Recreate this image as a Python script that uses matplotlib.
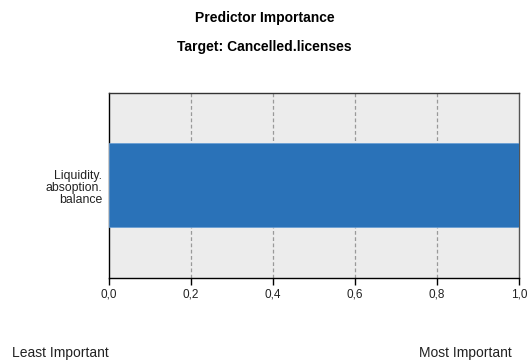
import matplotlib
matplotlib.use("Agg")
import matplotlib.pyplot as plt

plt.rcParams['font.family'] = ['Liberation Sans', 'DejaVu Sans']

categories = ["Liquidity.\nabsoption.\nbalance"]
importance = [1.0]
xticks = [0.0, 0.2, 0.4, 0.6, 0.8, 1.0]
xtick_labels = ["0,0", "0,2", "0,4", "0,6", "0,8", "1,0"]

fig = plt.figure(figsize=(5.29, 3.6), dpi=100)
ax = fig.add_axes([109/529, 1-277.7/360, 410/529, 185/360])
ax.set_facecolor('#ececec')

ypos = list(range(len(categories)))
ax.barh(ypos, importance, height=0.456, color='#2a72b8',
        edgecolor='#6a9fd4', linewidth=0.6, zorder=3)
ax.set_xlim(0, 1.0)
ax.set_ylim(-0.5, 0.5)
ax.set_yticks([])
for i, c in zip(ypos, categories):
    ax.annotate(c, xy=(0, i), xycoords=('axes fraction', 'data'),
                xytext=(-7, -3), textcoords='offset pixels',
                ha='right', va='center', fontsize=8.8, linespacing=1.0,
                color='#222222', multialignment='right')
ax.set_xticks(xticks)
ax.set_xticklabels(xtick_labels, fontsize=8.5, color='#222222')
ax.tick_params(axis='x', direction='out', length=5, width=1, color='black', pad=3)
for x in xticks[1:-1]:
    ax.axvline(x, color='#999999', linestyle=(0, (3, 2)), linewidth=0.9, zorder=1)
for s in ['top', 'left', 'bottom', 'right']:
    ax.spines[s].set_color('black')
    ax.spines[s].set_linewidth(1)
ax.spines['right'].set_color('#555555')
ax.spines['top'].set_color('#333333')

fig.text(0.5, 1-18/360, "Predictor Importance", ha='center', va='center',
         fontsize=10, fontweight='bold')
fig.text(0.5, 1-47/360, "Target: Cancelled.licenses", ha='center', va='center',
         fontsize=10, fontweight='bold')
fig.text(12/529, 1-357/360, "Least Important", ha='left', va='baseline', fontsize=10,
         color='#222222')
fig.text(512/529, 1-357/360, "Most Important", ha='right', va='baseline', fontsize=10,
         color='#222222')

fig.savefig("out.png", dpi=100)
